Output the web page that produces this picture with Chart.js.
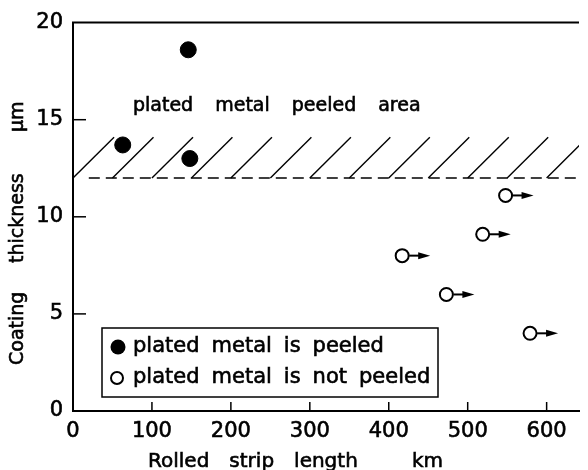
<!DOCTYPE html>
<html>
<head>
<meta charset="utf-8">
<script src="https://cdn.jsdelivr.net/npm/chart.js@4/dist/chart.umd.min.js"></script>
<style>
  html, body { margin: 0; padding: 0; background: #fff; }
  #wrap { width: 588px; height: 470px; }
</style>
</head>
<body>
<div id="wrap"><canvas id="coating" width="588" height="470"></canvas></div>
<script>
// plated metal is peeled (filled dots)
const peeled_len = [63, 146, 148];
const peeled_thk = [13.7, 18.6, 13.0];
// plated metal is not peeled (open dots, arrow = test still running)
const intact_len = [548, 519, 417, 473, 579];
const intact_thk = [11.1, 9.1, 8.0, 6.0, 4.0];

// peel boundary and hatched area above it
const limit_thk = 12;
const limit_from = 20;
const hatch_from = [0, 50, 100, 150, 200, 250, 300, 350, 400, 450, 500, 550, 600, 650];
const hatch_top = 14.1;
const hatch_run = 52;

const x_max = 641;
const y_max = 20;

const FONT = 'DejaVu Sans';
Chart.defaults.font.family = FONT;
Chart.defaults.color = '#000';

// draws words one by one with a fixed gap, the original has wide word spacing
function words(ctx, list, x, y, gap) {
  list.forEach(w => {
    ctx.strokeText(w, x, y);
    ctx.fillText(w, x, y);
    x += ctx.measureText(w).width + gap;
  });
}

const decor = {
  id: 'decor',
  beforeDatasetsDraw(chart) {
    const { ctx, chartArea: a, scales: { x, y } } = chart;
    ctx.save();
    ctx.beginPath();
    ctx.rect(a.left, a.top, a.right - a.left, a.bottom - a.top);
    ctx.clip();
    ctx.strokeStyle = '#000';
    ctx.lineWidth = 1.4;
    hatch_from.forEach(h => {
      ctx.beginPath();
      ctx.moveTo(x.getPixelForValue(h), y.getPixelForValue(limit_thk));
      ctx.lineTo(x.getPixelForValue(h + hatch_run), y.getPixelForValue(hatch_top));
      ctx.stroke();
    });
    ctx.restore();
  },
  afterDatasetsDraw(chart) {
    const { ctx, chartArea: a, scales: { x, y } } = chart;
    ctx.save();
    ctx.strokeStyle = '#000';
    ctx.fillStyle = '#000';

    // top frame line
    ctx.lineWidth = 2;
    ctx.beginPath();
    ctx.moveTo(a.left - 1, a.top);
    ctx.lineTo(a.right, a.top);
    ctx.stroke();

    // tick marks point inwards
    ctx.lineWidth = 1.5;
    y.ticks.forEach(t => {
      if (t.value <= 0 || t.value >= y_max) return;
      const py = y.getPixelForValue(t.value);
      ctx.beginPath();
      ctx.moveTo(a.left, py);
      ctx.lineTo(a.left + 13, py);
      ctx.stroke();
    });
    x.ticks.forEach(t => {
      if (t.value <= 0) return;
      const px = x.getPixelForValue(t.value);
      ctx.beginPath();
      ctx.moveTo(px, a.bottom);
      ctx.lineTo(px, a.bottom - 9);
      ctx.stroke();
    });

    // arrows on the open dots
    const meta = chart.getDatasetMeta(1);
    meta.data.forEach(p => {
      ctx.lineWidth = 2;
      ctx.beginPath();
      ctx.moveTo(p.x + 7, p.y);
      ctx.lineTo(p.x + 20, p.y);
      ctx.stroke();
      ctx.beginPath();
      ctx.moveTo(p.x + 16, p.y - 3.5);
      ctx.lineTo(p.x + 28, p.y);
      ctx.lineTo(p.x + 16, p.y + 3.5);
      ctx.closePath();
      ctx.fill();
    });

    // area label
    ctx.font = '19px ' + FONT;
    ctx.lineWidth = 0.6;
    ctx.textBaseline = 'middle';
    ctx.textAlign = 'left';
    words(ctx, ['plated', 'metal', 'peeled', 'area'], a.left + 60, a.top + 83, 22);
    ctx.restore();
  },
  afterDraw(chart) {
    const { ctx, chartArea: a } = chart;
    ctx.save();
    ctx.fillStyle = '#000';
    ctx.strokeStyle = '#000';

    // legend box
    const bx = a.left + 29, by = a.bottom - 83, bw = 336, bh = 69;
    ctx.fillStyle = '#fff';
    ctx.fillRect(bx, by, bw, bh);
    ctx.lineWidth = 1.5;
    ctx.strokeRect(bx, by, bw, bh);
    ctx.fillStyle = '#000';
    ctx.beginPath();
    ctx.arc(bx + 16, by + 19, 7.5, 0, Math.PI * 2);
    ctx.fill();
    ctx.lineWidth = 2;
    ctx.beginPath();
    ctx.arc(bx + 15, by + 50, 6, 0, Math.PI * 2);
    ctx.stroke();
    ctx.font = '21px ' + FONT;
    ctx.lineWidth = 0.6;
    ctx.textBaseline = 'middle';
    ctx.textAlign = 'left';
    words(ctx, ['plated', 'metal', 'is', 'peeled'], bx + 31, by + 19, 12);
    words(ctx, ['plated', 'metal', 'is', 'not', 'peeled'], bx + 31, by + 50, 12);

    // axis titles
    ctx.font = '20px ' + FONT;
    words(ctx, ['Rolled', 'strip', 'length'], a.left + 75, a.bottom + 51, 20);
    words(ctx, ['km'], a.left + 339, a.bottom + 51, 0);

    ctx.font = '19px ' + FONT;
    ctx.translate(18, a.bottom - 46);
    ctx.rotate(-Math.PI / 2);
    words(ctx, ['Coating'], 0, 0, 0);
    words(ctx, ['thickness'], 102, 0, 0);
    words(ctx, ['\u03bcm'], 233, 0, 0);
    ctx.restore();
  }
};

const tickFont = { size: 21 };

const chart = new Chart(document.getElementById('coating'), {
  type: 'scatter',
  data: {
    datasets: [{
      label: 'plated metal is peeled',
      data: peeled_len.map((v, i) => ({ x: v, y: peeled_thk[i] })),
      pointRadius: 8,
      backgroundColor: '#000',
      borderColor: '#000'
    }, {
      label: 'plated metal is not peeled',
      data: intact_len.map((v, i) => ({ x: v, y: intact_thk[i] })),
      pointRadius: 6.5,
      borderWidth: 2,
      backgroundColor: '#fff',
      borderColor: '#000'
    }, {
      type: 'line',
      label: 'limit',
      data: [{ x: limit_from, y: limit_thk }, { x: x_max, y: limit_thk }],
      borderColor: '#000',
      borderWidth: 1.5,
      borderDash: [11, 6],
      pointRadius: 0
    }]
  },
  options: {
    responsive: false,
    animation: false,
    events: [],
    layout: { padding: { top: 17, right: 0, left: 0, bottom: 0 } },
    plugins: { legend: { display: false }, tooltip: { enabled: false } },
    scales: {
      x: {
        type: 'linear',
        min: 0,
        max: x_max,
        grid: { display: false, drawTicks: false },
        border: { display: true, color: '#000', width: 2 },
        ticks: {
          stepSize: 100, includeBounds: false, padding: 8, font: tickFont, maxRotation: 0,
          textStrokeColor: '#000', textStrokeWidth: 0.6
        },
        afterFit(s) { s.height = 59; }
      },
      y: {
        min: 0,
        max: y_max,
        grid: { display: false, drawTicks: false },
        border: { display: true, color: '#000', width: 2 },
        ticks: {
          stepSize: 5, padding: 10, font: tickFont,
          textStrokeColor: '#000', textStrokeWidth: 0.6
        },
        afterFit(s) { s.width = 73; }
      }
    }
  },
  plugins: [decor]
});
</script>
</body>
</html>
